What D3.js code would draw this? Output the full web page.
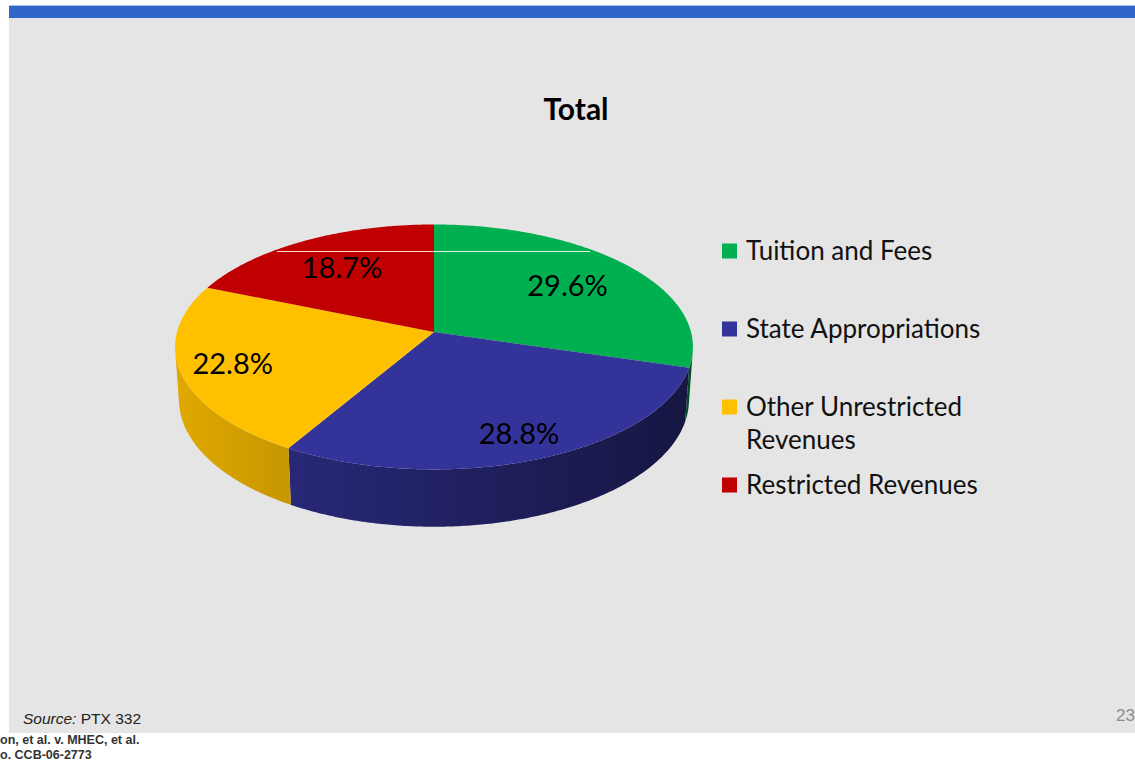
<!DOCTYPE html>
<html>
<head>
<meta charset="utf-8">
<script src="https://cdn.jsdelivr.net/npm/d3@7"></script>
<style>
  body { margin: 0; background: #fff; }
  svg { display: block; }
</style>
</head>
<body>
<div id="chart"></div>
<script>
"use strict";
(function() {

const WIDTH = 1135
const HEIGHT = 763

// data
const categories = ["Tuition and Fees", "State Appropriations", "Other Unrestricted Revenues", "Restricted Revenues"]
const legendLines = [["Tuition and Fees"], ["State Appropriations"], ["Other Unrestricted", "Revenues"], ["Restricted Revenues"]]
const shares = [29.6, 28.8, 22.8, 18.7]
const colors = ["#00b050", "#333399", "#ffc000", "#c00000"]

// where Excel dropped each data label (fraction of radius)
const LABEL_R = [0.68, 0.82, 0.80, 0.69]

// fake 3D camera
const CX = 434, CY = 332, RAD = 257
const TILT = 28 * Math.PI / 180
const DIST = 7.24
const DEPTH = 0.235

const FONT = "Lato, 'Noto Sans', sans-serif"

let svg = d3.select("#chart").append("svg")
    .attr("width", WIDTH)
    .attr("height", HEIGHT)

// slide frame
svg.append("rect").attr("x", 9).attr("y", 18).attr("width", WIDTH - 9).attr("height", 715).attr("fill", "#e5e5e5")
svg.append("rect").attr("x", 9).attr("y", 5).attr("width", WIDTH - 9).attr("height", 1).attr("fill", "#a9bfe8")
svg.append("rect").attr("x", 9).attr("y", 6).attr("width", WIDTH - 9).attr("height", 12).attr("fill", "#3265c9")

svg.append("text")
    .attr("x", 576).attr("y", 120)
    .attr("text-anchor", "middle")
    .style("font-family", FONT).style("font-weight", "bold").style("font-size", "30px")
    .text("Total")

let x_scale = d3.scaleLinear().domain([-1, 1]).range([CX - RAD, CX + RAD])
let y_scale = d3.scaleLinear().domain([-1, 1]).range([CY + RAD, CY - RAD])

// angle is clockwise from the back of the pie, yw is height (0 = top face)
function project(a, r, yw) {
    let X = r * Math.sin(a), Z = r * Math.cos(a)
    let v = yw * Math.cos(TILT) + Z * Math.sin(TILT)
    let d = Z * Math.cos(TILT) - yw * Math.sin(TILT)
    let p = DIST / (DIST + d)
    return [x_scale(X * p), y_scale(v * p)]
}

function arcPoints(a0, a1, yw) {
    let n = Math.ceil((a1 - a0) / 0.01) + 1
    return d3.range(n).map(i => project(a0 + (a1 - a0) * i / (n - 1), 1, yw))
}

let line = d3.line()

let pie = d3.pie().sort(null).value(d => d)
let slices = pie(shares)

// side wall is only seen where the rim normal faces the camera
let edge = Math.acos(-1 / (DIST * Math.cos(TILT)))
let S0 = edge, S1 = 2 * Math.PI - edge

let defs = svg.append("defs")
colors.forEach((c, i) => {
    let base = d3.rgb(c)
    let g = defs.append("linearGradient")
        .attr("id", "wall" + i)
        .attr("gradientUnits", "userSpaceOnUse")
        .attr("x1", CX - RAD).attr("x2", CX + RAD)
        .attr("y1", 0).attr("y2", 0)
    ;[[0, 0.88], [1, 0.43]].forEach(s => {
        g.append("stop")
            .attr("offset", s[0])
            .attr("stop-color", d3.rgb(base.r * s[1], base.g * s[1], base.b * s[1]).formatHex())
    })
})

let pieG = svg.append("g")

slices.forEach((s, i) => {
    let lo = Math.max(s.startAngle, S0)
    let hi = Math.min(s.endAngle, S1)
    if (lo >= hi) { return; }
    let pts = arcPoints(lo, hi, 0).concat(arcPoints(lo, hi, -DEPTH).reverse())
    pieG.append("path")
        .attr("class", "wall")
        .attr("d", line(pts) + "Z")
        .attr("fill", "url(#wall" + i + ")")
})

slices.forEach((s, i) => {
    let pts = [project(0, 0, 0)].concat(arcPoints(s.startAngle, s.endAngle, 0))
    pieG.append("path")
        .attr("class", "top")
        .attr("d", line(pts) + "Z")
        .attr("fill", colors[i])
})

// stray white hairline on the original slide
svg.append("line")
    .attr("x1", 277).attr("x2", 590).attr("y1", 251.5).attr("y2", 251.5)
    .attr("stroke", "#fff").attr("stroke-opacity", 0.85).attr("stroke-width", 1.2)

slices.forEach((s, i) => {
    let mid = (s.startAngle + s.endAngle) / 2
    let pos = project(mid, LABEL_R[i], 0)
    svg.append("text")
        .attr("x", pos[0]).attr("y", pos[1])
        .attr("dy", "0.36em")
        .attr("text-anchor", "middle")
        .style("font-family", FONT).style("font-size", "29px")
        .attr("fill", "#000")
        .text(d3.format(".1f")(shares[i]) + "%")
})

// legend
let legend_y = d3.scalePoint().domain(categories).range([251, 485])

let legend = svg.append("g")
categories.forEach((c, i) => {
    let y = legend_y(c)
    legend.append("rect")
        .attr("x", 722).attr("y", y - 7.5)
        .attr("width", 15).attr("height", 15)
        .attr("fill", colors[i])
    legendLines[i].forEach((t, j) => {
        legend.append("text")
            .attr("x", 746).attr("y", y + j * 33)
            .attr("dy", "0.36em")
            .style("font-family", FONT).style("font-size", "26px")
            .attr("fill", "#111")
            .text(t)
    })
})

// footer
let src = svg.append("text")
    .attr("x", 23).attr("y", 724)
    .style("font-family", "'Liberation Sans', Arial, sans-serif").style("font-size", "15.5px")
    .attr("fill", "#222")
src.append("tspan").style("font-style", "italic").text("Source:")
src.append("tspan").text(" PTX 332")

svg.append("text")
    .attr("x", 1116).attr("y", 721)
    .style("font-family", "'Liberation Sans', Arial, sans-serif").style("font-size", "17px")
    .attr("fill", "#8c8c8c")
    .text("23")

let caseLines = ["on, et al. v. MHEC, et al.", "o. CCB-06-2773"]
caseLines.forEach((t, j) => {
    svg.append("text")
        .attr("x", 0).attr("y", 744 + j * 15)
        .style("font-family", "'Liberation Sans', Arial, sans-serif")
        .style("font-size", "12.5px").style("font-weight", "bold")
        .attr("fill", "#333")
        .text(t)
})

})();
</script>
</body>
</html>
